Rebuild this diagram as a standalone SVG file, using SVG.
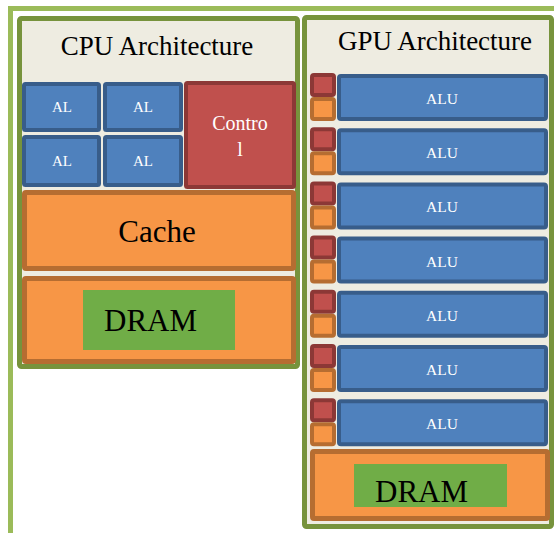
<svg xmlns="http://www.w3.org/2000/svg" width="554" height="533" viewBox="0 0 554 533" font-family="'Liberation Serif', 'DejaVu Serif', 'Times New Roman', serif">
<style>
.frame{fill:#FFFFFF;stroke:#9BBB59;stroke-width:5}
.panel{fill:#EEECE1;stroke:#77933C;stroke-width:5}
.alu{fill:#4F81BD;stroke:#385D8A;stroke-width:4}
.ctl{fill:#C0504D;stroke:#8C3836;stroke-width:4}
.mem{fill:#F79646;stroke:#B66D31;stroke-width:5}
.sq{fill:#F79646;stroke:#B66D31;stroke-width:4}
.dram{fill:#70AD47}
.title{font-size:27px;fill:#000;text-anchor:middle}
.big{font-size:31px;fill:#000}
.wt{fill:#FFFFFF;text-anchor:middle}
</style>
<rect width="554" height="533" fill="#FFFFFF"/>
<g id="outer-frame">
<rect class="frame" x="10.5" y="8.5" width="560" height="540"/>
</g>
<g id="cpu">
<rect class="panel" x="19.5" y="18.5" width="278" height="348" rx="2"/>
<text class="title" x="157" y="55">CPU Architecture</text>
</g>
<g id="cpu-alu-1"><rect class="alu" x="24" y="84" width="75" height="46" rx="1.5"/><text class="wt" x="62" y="112" font-size="15">AL</text></g>
<g id="cpu-alu-2"><rect class="alu" x="105" y="84" width="76" height="46" rx="1.5"/><text class="wt" x="143" y="112" font-size="15">AL</text></g>
<g id="cpu-alu-3"><rect class="alu" x="24" y="137" width="75" height="48" rx="1.5"/><text class="wt" x="62" y="166" font-size="15">AL</text></g>
<g id="cpu-alu-4"><rect class="alu" x="105" y="137" width="76" height="48" rx="1.5"/><text class="wt" x="143" y="166" font-size="15">AL</text></g>
<g id="cpu-control"><rect class="ctl" x="186" y="83" width="108" height="104" rx="1.5"/><text class="wt" font-size="20"><tspan x="240" y="130">Contro</tspan><tspan x="240" y="156">l</tspan></text></g>
<g id="cpu-cache"><rect class="mem" x="24.5" y="192.5" width="269" height="76" rx="1.5"/><text class="big" x="157" y="242" text-anchor="middle">Cache</text></g>
<g id="cpu-dram"><rect class="mem" x="24.5" y="278.5" width="269" height="83" rx="1.5"/><rect class="dram" x="83" y="290" width="152" height="60"/><text class="big" x="104" y="331">DRAM</text></g>
<g id="gpu">
<rect class="panel" x="304.5" y="17.5" width="247" height="509" rx="2"/>
<text class="title" x="435" y="50">GPU Architecture</text>
</g>
<g id="gpu-row-1"><rect class="ctl" x="312" y="75" width="22" height="20" rx="2"/><rect class="sq" x="312" y="99" width="22" height="20" rx="2"/><rect class="alu" x="339" y="76" width="207" height="43" rx="2"/><text class="wt" x="442" y="104" font-size="15.5">ALU</text></g>
<g id="gpu-row-2"><rect class="ctl" x="312" y="129.2" width="22" height="20" rx="2"/><rect class="sq" x="312" y="153.2" width="22" height="20" rx="2"/><rect class="alu" x="339" y="130.2" width="207" height="43" rx="2"/><text class="wt" x="442" y="158.2" font-size="15.5">ALU</text></g>
<g id="gpu-row-3"><rect class="ctl" x="312" y="183.4" width="22" height="20" rx="2"/><rect class="sq" x="312" y="207.4" width="22" height="20" rx="2"/><rect class="alu" x="339" y="184.4" width="207" height="43" rx="2"/><text class="wt" x="442" y="212.4" font-size="15.5">ALU</text></g>
<g id="gpu-row-4"><rect class="ctl" x="312" y="237.6" width="22" height="20" rx="2"/><rect class="sq" x="312" y="261.6" width="22" height="20" rx="2"/><rect class="alu" x="339" y="238.6" width="207" height="43" rx="2"/><text class="wt" x="442" y="266.6" font-size="15.5">ALU</text></g>
<g id="gpu-row-5"><rect class="ctl" x="312" y="291.8" width="22" height="20" rx="2"/><rect class="sq" x="312" y="315.8" width="22" height="20" rx="2"/><rect class="alu" x="339" y="292.8" width="207" height="43" rx="2"/><text class="wt" x="442" y="320.8" font-size="15.5">ALU</text></g>
<g id="gpu-row-6"><rect class="ctl" x="312" y="346" width="22" height="20" rx="2"/><rect class="sq" x="312" y="370" width="22" height="20" rx="2"/><rect class="alu" x="339" y="347" width="207" height="43" rx="2"/><text class="wt" x="442" y="375" font-size="15.5">ALU</text></g>
<g id="gpu-row-7"><rect class="ctl" x="312" y="400.2" width="22" height="20" rx="2"/><rect class="sq" x="312" y="424.2" width="22" height="20" rx="2"/><rect class="alu" x="339" y="401.2" width="207" height="43" rx="2"/><text class="wt" x="442" y="429.2" font-size="15.5">ALU</text></g>
<g id="gpu-dram"><rect class="mem" x="312.5" y="451.5" width="235" height="67" rx="1.5"/><rect class="dram" x="354" y="464" width="153" height="43"/><text class="big" x="375" y="502">DRAM</text></g>
<g id="connectors"/>
</svg>
